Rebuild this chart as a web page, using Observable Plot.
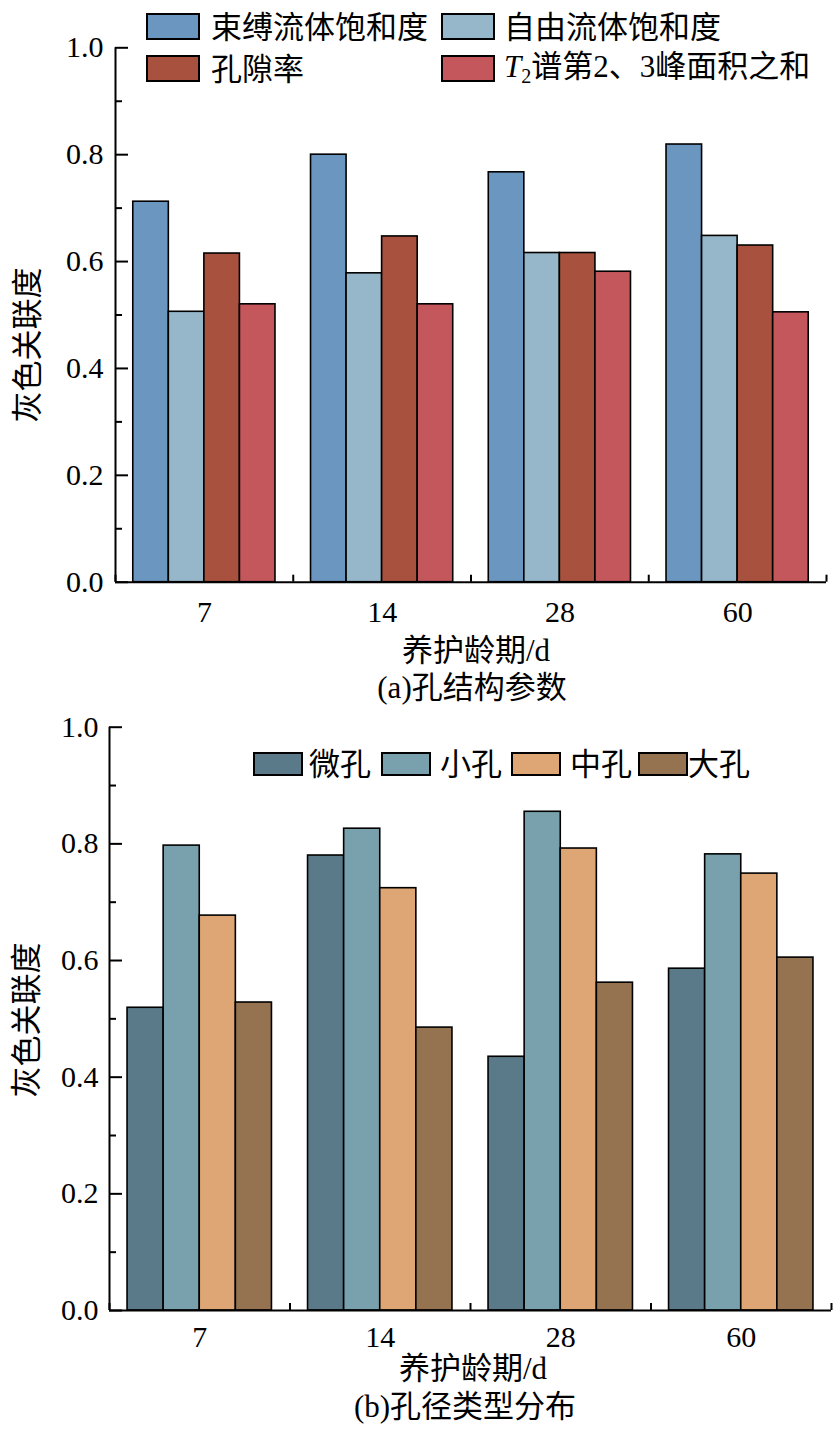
<!DOCTYPE html>
<html><head><meta charset="utf-8">
<script src="https://cdn.jsdelivr.net/npm/d3@7"></script>
<script src="https://cdn.jsdelivr.net/npm/@observablehq/plot@0.6"></script>
<style>
body{margin:0;background:#fff;}
#page{position:relative;width:837px;height:1433px;font-family:'Liberation Serif','Noto Sans CJK SC',serif;color:#000;overflow:hidden;}
.abs{position:absolute;white-space:nowrap;line-height:1;font-size:31px;}
.c{transform:translate(-50%,-50%);}
.yt{transform:translate(-50%,-50%) rotate(-90deg);}
.sw{position:absolute;border:2px solid #000;box-sizing:border-box;}
.lg{position:absolute;white-space:nowrap;line-height:1;font-size:31px;transform:translateY(-50%);}
#page svg{position:absolute;left:0;}
.sub{font-size:0.65em;vertical-align:-0.3em;}
</style></head><body><div id="page"></div>
<script>
// ---- data ----
const ages = ["7", "14", "28", "60"];
const seriesA = ["束缚流体饱和度", "自由流体饱和度", "孔隙率", "T2谱第2、3峰面积之和"];
const boundFluid = [0.712, 0.800, 0.767, 0.819];
const freeFluid = [0.506, 0.578, 0.616, 0.648];
const porosity = [0.615, 0.647, 0.616, 0.630];
const t2Peaks = [0.520, 0.520, 0.581, 0.505];
const colorsA = ["#6a96c0", "#96b7ca", "#a9513f", "#c3575b"];

const seriesB = ["微孔", "小孔", "中孔", "大孔"];
const microPore = [0.519, 0.780, 0.435, 0.586];
const smallPore = [0.797, 0.826, 0.855, 0.782];
const mediumPore = [0.677, 0.724, 0.792, 0.749];
const largePore = [0.528, 0.485, 0.562, 0.605];
const colorsB = ["#5a7a89", "#78a1ad", "#dfa675", "#957351"];

const yMajor = [0, 0.2, 0.4, 0.6, 0.8, 1.0];
const yMinor = [0.1, 0.3, 0.5, 0.7, 0.9];

function table(series, valueLists) {
  const rows = [];
  ages.forEach((age, i) => {
    series.forEach((s, j) => {
      const x1 = i + 0.1 + 0.2 * j;
      rows.push({age, series: s, value: valueLists[j][i], x1, x2: x1 + 0.2});
    });
  });
  return rows;
}

const FONT = "'Liberation Serif','Noto Sans CJK SC',serif";

function panel(rows, series, colors, opts) {
  const boundaries = d3.range(0, ages.length + 1);
  const centers = ages.map((_, i) => i + 0.5);
  return Plot.plot({
    width: 837,
    height: opts.height,
    marginTop: opts.mt,
    marginBottom: opts.mb,
    marginLeft: opts.ml,
    marginRight: opts.mr,
    style: {fontFamily: FONT, fontSize: "30px", background: "transparent", overflow: "visible"},
    x: {domain: [0, ages.length]},
    y: {domain: [0, 1]},
    color: {domain: series, range: colors},
    marks: [
      Plot.rect(rows, {x1: "x1", x2: "x2", y1: 0, y2: "value", fill: "series", stroke: "#000", strokeWidth: 1.6}),
      Plot.ruleY([0], {strokeWidth: 2}),
      Plot.ruleX([0], {strokeWidth: 2}),
      Plot.axisY(yMajor, {tickSize: -13, tickPadding: 13 + opts.ylabGap, strokeWidth: 2, tickFormat: d3.format(".1f"), fontSize: 30, label: null}),
      Plot.axisY(yMinor, {tickSize: -7, tickPadding: 0, strokeWidth: 2, tickFormat: () => "", label: null}),
      Plot.axisX(boundaries, {tickSize: -7, tickPadding: 0, strokeWidth: 2, tickFormat: () => "", label: null}),
      Plot.axisX(centers, {tickSize: 0, tickPadding: opts.xpad, tickFormat: d => ages[Math.floor(d)], fontSize: 30, label: null})
    ]
  });
}

const page = document.getElementById("page");

const svgA = panel(table(seriesA, [boundFluid, freeFluid, porosity, t2Peaks]), seriesA, colorsA,
  {height: 625, mt: 47.3, mb: 43.3, ml: 115, mr: 11, xpad: 18.7, ylabGap: 12});
svgA.style.top = "0px";
page.appendChild(svgA);

const svgB = panel(table(seriesB, [microPore, smallPore, mediumPore, largePore]), seriesB, colorsB,
  {height: 655, mt: 26.7, mb: 45, ml: 109, mr: 6, xpad: 15.4, ylabGap: 11});
svgB.style.top = "700px";
page.appendChild(svgB);

function addText(html, x, y, cls) {
  const d = document.createElement("div");
  d.className = "abs " + cls;
  d.style.left = x + "px";
  d.style.top = y + "px";
  d.innerHTML = html;
  page.appendChild(d);
}

addText("灰色关联度", 27, 345, "yt");
addText("养护龄期/d", 476, 650, "c");
addText("(a)孔结构参数", 472, 687, "c");
addText("灰色关联度", 26, 1020, "yt");
addText("养护龄期/d", 473, 1368, "c");
addText("(b)孔径类型分布", 465, 1406, "c");

function labelHtml(s) {
  return s.startsWith("T2") ? '<i>T</i><span class="sub">2</span>' + s.slice(2) : s;
}

function legend(series, colors, layout) {
  series.forEach((s, j) => {
    const L = layout[j];
    const sw = document.createElement("div");
    sw.className = "sw";
    sw.style.left = L.sx + "px"; sw.style.top = L.sy + "px";
    sw.style.width = L.w + "px"; sw.style.height = L.h + "px";
    sw.style.background = colors[j];
    page.appendChild(sw);
    const t = document.createElement("div");
    t.className = "lg";
    t.style.left = L.tx + "px"; t.style.top = (L.sy + L.h / 2) + "px";
    t.innerHTML = labelHtml(s);
    page.appendChild(t);
  });
}

legend(seriesA, colorsA, [
  {sx: 146, sy: 13, w: 54, h: 27, tx: 211},
  {sx: 441, sy: 13, w: 54, h: 27, tx: 504},
  {sx: 146, sy: 55, w: 54, h: 27, tx: 211},
  {sx: 441, sy: 55, w: 54, h: 27, tx: 504}
]);
legend(seriesB, colorsB, [
  {sx: 253, sy: 752, w: 50, h: 24, tx: 309},
  {sx: 381, sy: 752, w: 50, h: 24, tx: 440},
  {sx: 511, sy: 752, w: 50, h: 24, tx: 570},
  {sx: 638, sy: 752, w: 50, h: 24, tx: 688}
]);
</script>
</body></html>
